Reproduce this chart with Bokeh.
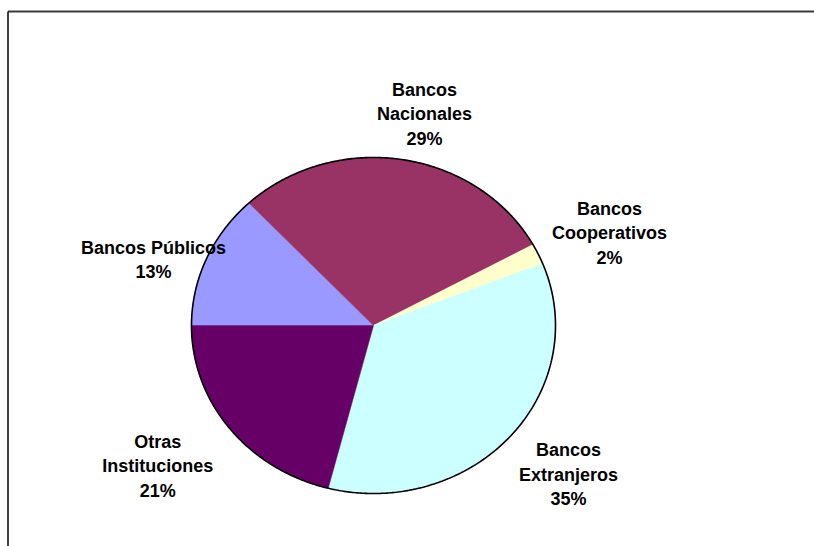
import numpy as np
from bokeh.plotting import figure
from bokeh.models import Range1d, ColumnDataSource
from bokeh.core.properties import value
from bokeh.embed import file_html
from bokeh.resources import INLINE

# ---- data ----
categories = ["Bancos Públicos", "Bancos Nacionales", "Bancos Cooperativos",
              "Bancos Extranjeros", "Otras Instituciones"]
shares = [13, 29, 2, 35, 21]
label_texts = ["Bancos Públicos\n13%", "Bancos\nNacionales\n29%", "Bancos\nCooperativos\n2%",
               "Bancos\nExtranjeros\n35%", "Otras\nInstituciones\n21%"]

# ---- styles / layout ----
colors = ["#9999FF", "#993366", "#FFFFCC", "#CCFFFF", "#660066"]
label_dx = [-53, 22.5, 71.3, 58.5, -72]      # pixel offsets of label blocks from slice mid-point on rim
label_dy = [1, -45.5, -20.5, 38, 38]
W, H = 814, 546
CX, CY = 373, 325          # pie centre in frame pixels (from top-left)
RX, RY = 182, 168          # pie radii in pixels
LINE_H = 24.5

p = figure(width=W, height=H, output_backend="svg", toolbar_location=None,
           min_border=0, min_border_left=0, min_border_right=0,
           min_border_top=0, min_border_bottom=0)
p.x_range = Range1d(-CX / RX, (W - CX) / RX)
p.y_range = Range1d(-(H - CY) / RY, CY / RY)
p.xaxis.visible = False
p.yaxis.visible = False
p.grid.visible = False
p.outline_line_color = None
p.background_fill_color = "white"
p.border_fill_color = "white"

total = float(sum(shares))
start = np.pi
xs, ys, mids = [], [], []
for s in shares:
    sweep = 2 * np.pi * s / total
    a = np.linspace(start, start - sweep, 200)
    xs.append([0.0] + list(np.cos(a)))
    ys.append([0.0] + list(np.sin(a)))
    mids.append(start - sweep / 2)
    start -= sweep

src = ColumnDataSource(dict(xs=xs, ys=ys, color=colors, cat=categories))
p.patches("xs", "ys", fill_color="color", line_color="color", line_width=0.5, source=src)

t = np.linspace(0, 2 * np.pi, 600)
p.line(np.cos(t), np.sin(t), line_color="black", line_width=1.6)

# labels, one line at a time
for i, txt in enumerate(label_texts):
    lines = txt.split("\n")
    n = len(lines)
    for j, ln in enumerate(lines):
        p.text([np.cos(mids[i])], [np.sin(mids[i])], text=[ln],
               x_offset=label_dx[i], y_offset=label_dy[i] + (j - (n - 1) / 2) * LINE_H,
               text_font=value("Liberation Sans"), text_font_style="bold",
               text_font_size="18px", text_color="black",
               text_align="center", text_baseline="middle")

# frame lines (top & left) of the original chart area
x_left = -(CX - 7.5) / RX
y_top = (CY - 11) / RY
x_far = p.x_range.end + 0.1
y_far = p.y_range.start - 0.1
p.segment(x0=[x_left], y0=[y_top], x1=[x_far], y1=[y_top], line_color="#3a3a3a", line_width=2)
p.segment(x0=[x_left], y0=[y_top], x1=[x_left], y1=[y_far], line_color="black", line_width=1.5)

open("out.html", "w").write(file_html(p, INLINE))
